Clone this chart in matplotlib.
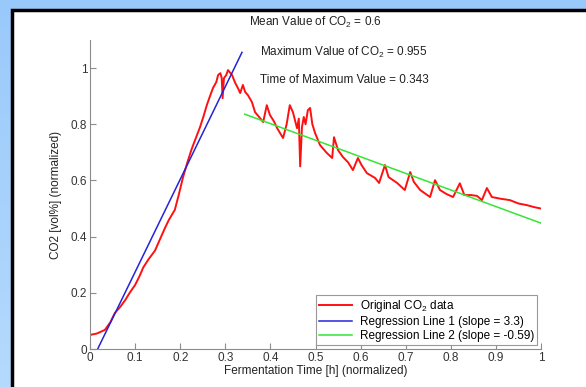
import numpy as np
import matplotlib
matplotlib.use("Agg")
import matplotlib.pyplot as plt
from matplotlib.patches import Rectangle

plt.rcParams['font.family'] = ['Liberation Sans', 'DejaVu Sans']
plt.rcParams['mathtext.default'] = 'regular'

# CO2 curve (normalized)
time_norm = [0.000, 0.015, 0.033, 0.045, 0.055, 0.067, 0.078, 0.088, 0.100, 0.110,
             0.118, 0.130, 0.144, 0.155, 0.166, 0.175, 0.188, 0.197, 0.206, 0.217,
             0.225, 0.233, 0.244, 0.252, 0.259, 0.266, 0.273, 0.280, 0.284, 0.289,
             0.292, 0.294, 0.297, 0.302, 0.306, 0.310, 0.315, 0.322, 0.328, 0.333,
             0.339, 0.344, 0.350, 0.359, 0.366, 0.377, 0.384, 0.392, 0.399, 0.408,
             0.415, 0.428, 0.436, 0.443, 0.450, 0.459, 0.463, 0.466, 0.470, 0.474,
             0.478, 0.483, 0.488, 0.493, 0.499, 0.510, 0.525, 0.537, 0.541, 0.550,
             0.561, 0.572, 0.583, 0.594, 0.602, 0.614, 0.632, 0.641, 0.654, 0.662,
             0.681, 0.698, 0.710, 0.718, 0.732, 0.754, 0.765, 0.776, 0.790, 0.805,
             0.820, 0.830, 0.845, 0.858, 0.869, 0.880, 0.891, 0.910, 0.931, 0.950,
             0.969, 0.985, 1.000]
co2_norm = [0.050, 0.055, 0.068, 0.095, 0.128, 0.150, 0.174, 0.200, 0.228, 0.260,
            0.290, 0.320, 0.350, 0.390, 0.430, 0.460, 0.495, 0.550, 0.610, 0.670,
            0.710, 0.744, 0.790, 0.830, 0.868, 0.900, 0.930, 0.950, 0.975, 0.982,
            0.965, 0.893, 0.964, 0.975, 0.993, 0.985, 0.975, 0.947, 0.929, 0.911,
            0.940, 0.915, 0.904, 0.879, 0.843, 0.822, 0.808, 0.868, 0.833, 0.810,
            0.786, 0.751, 0.800, 0.868, 0.843, 0.786, 0.820, 0.650, 0.790, 0.826,
            0.800, 0.850, 0.858, 0.800, 0.769, 0.726, 0.698, 0.680, 0.754, 0.708,
            0.683, 0.665, 0.637, 0.680, 0.655, 0.626, 0.609, 0.591, 0.655, 0.612,
            0.591, 0.566, 0.630, 0.595, 0.566, 0.541, 0.601, 0.566, 0.552, 0.541,
            0.590, 0.548, 0.548, 0.545, 0.530, 0.573, 0.541, 0.535, 0.530, 0.518,
            0.512, 0.505, 0.500]

# regression line end points
reg1_x = [0.017, 0.337]
reg1_y = [0.0, 1.056]
reg2_x = [0.343, 1.0]
reg2_y = [0.836, 0.448]

fig = plt.figure(figsize=(5.86, 3.87), dpi=100)

# light blue gradient background
bg = fig.add_axes([0, 0, 1, 1], zorder=-10)
grad = np.linspace(0, 1, 256).reshape(-1, 1)
bg.imshow(grad, aspect='auto', extent=[0, 1, 0, 1], origin='upper',
          cmap=matplotlib.colors.LinearSegmentedColormap.from_list('bl', ['#99c9fb', '#b5dafd']))
bg.axis('off')

# white panel with black top/left border
fig.patches.append(Rectangle((12 / 586, -0.2), 1.2, 0.2 + 377 / 387, transform=fig.transFigure,
                             facecolor='white', edgecolor='black', linewidth=2.5, zorder=-5))

ax = fig.add_axes([90 / 586, 38 / 387, 451 / 586, 309 / 387])
ax.patch.set_alpha(0)

ax.plot(time_norm, co2_norm, color='#ff1010', lw=1.4, label='Original CO$_2$ data')
ax.plot(reg1_x, reg1_y, color='#2424d8', lw=1.1, label='Regression Line 1 (slope = 3.3)')
ax.plot(reg2_x, reg2_y, color='#33e633', lw=1.1, label='Regression Line 2 (slope = -0.59)')

ax.set_xlim(0, 1)
ax.set_ylim(0, 1.1)
ax.set_xticks(np.arange(0, 1.01, 0.1))
ax.set_xticklabels(['0', '0.1', '0.2', '0.3', '0.4', '0.5', '0.6', '0.7', '0.8', '0.9', '1'])
ax.set_yticks([0, 0.2, 0.4, 0.6, 0.8, 1])
ax.set_yticklabels(['0', '0.2', '0.4', '0.6', '0.8', '1'])

for s in ['top', 'right']:
    ax.spines[s].set_visible(False)
for s in ['left', 'bottom']:
    ax.spines[s].set_color('#8c8c8c')
    ax.spines[s].set_linewidth(0.8)
ax.tick_params(direction='in', length=4, width=0.8, color='#8c8c8c',
               labelsize=8.5, labelcolor='#333333', pad=2)

ax.set_xlabel('Fermentation Time [h] (normalized)', fontsize=8.5, color='#222222', labelpad=1)
ax.set_ylabel('CO2 [vol%] (normalized)', fontsize=8.5, color='#222222', labelpad=6)
ax.set_title('Mean Value of CO$_2$ = 0.6', fontsize=8.5, color='#222222', pad=10)

ax.text(0.377, 1.057, 'Maximum Value of CO$_2$ = 0.955', fontsize=8.5, color='#222222', va='center')
ax.text(0.377, 0.957, 'Time of Maximum Value = 0.343', fontsize=8.5, color='#222222', va='center')

leg = ax.legend(loc='lower right', fontsize=8.5, fancybox=False, framealpha=1,
                edgecolor='#999999', handlelength=2.8, borderpad=0.3, labelspacing=0.15,
                handletextpad=0.6, borderaxespad=0.3)
leg.get_frame().set_linewidth(0.8)

fig.savefig('out.png', dpi=100)
